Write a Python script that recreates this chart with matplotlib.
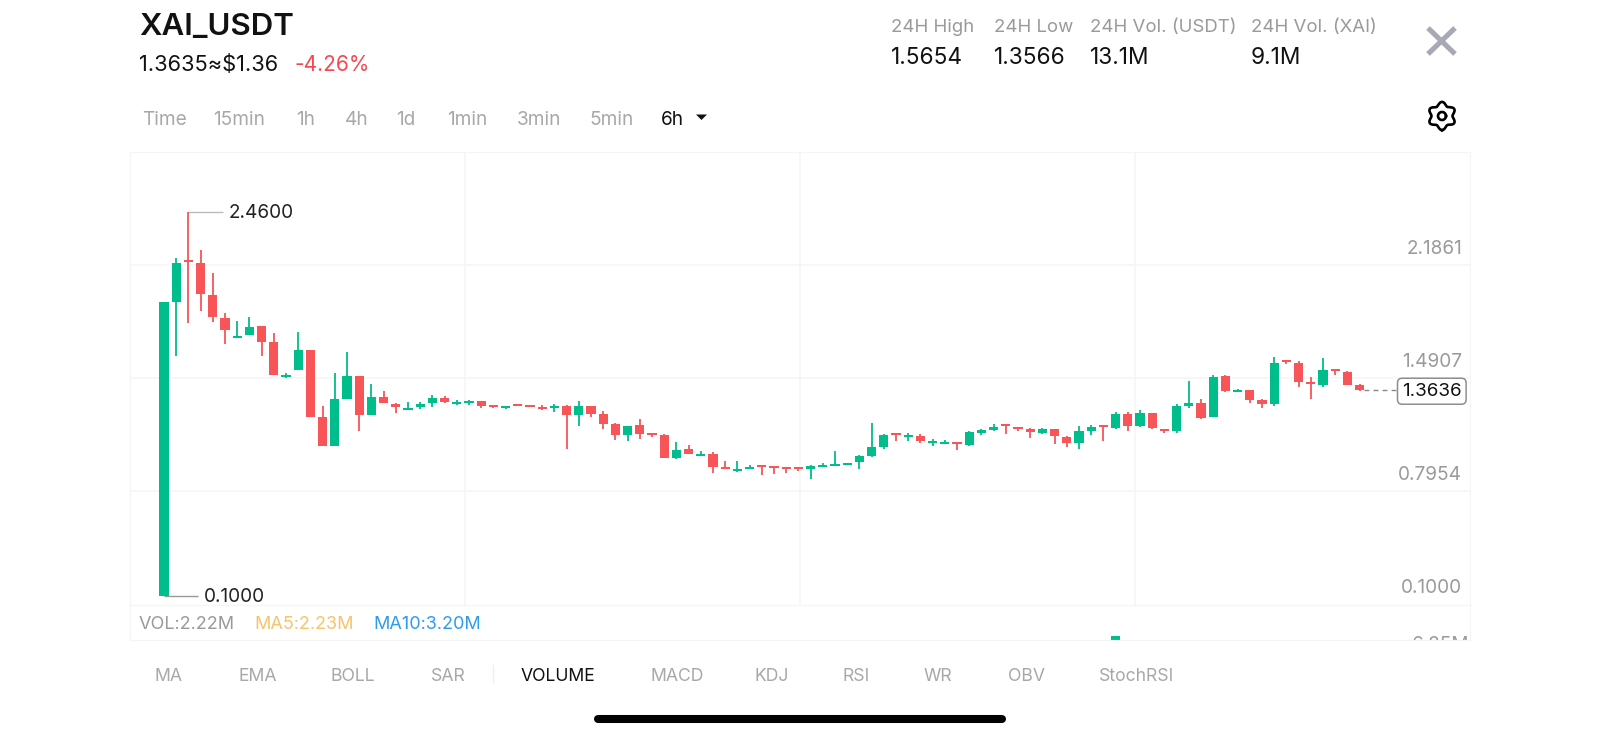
import matplotlib
matplotlib.use('Agg')
import matplotlib.pyplot as plt
import numpy as np
from matplotlib.transforms import blended_transform_factory

plt.rcParams['font.family'] = ['Inter', 'DejaVu Sans']

# candles, 6h
opens = [0.100, 1.907, 2.163, 2.149, 1.950, 1.811, 1.686, 1.702, 1.757, 1.659,
         1.446, 1.491, 1.614, 1.200, 1.022, 1.311, 1.454, 1.214, 1.325, 1.280,
         1.243, 1.260, 1.284, 1.315, 1.282, 1.286, 1.296, 1.272, 1.253, 1.278,
         1.272, 1.260, 1.257, 1.268, 1.212, 1.270, 1.219, 1.155, 1.092, 1.149,
         1.102, 1.089, 0.948, 1.001, 0.960, 0.973, 0.895, 0.868, 0.880, 0.903,
         0.899, 0.895, 0.893, 0.883, 0.895, 0.899, 0.907, 0.921, 0.962, 1.014,
         1.098, 1.075, 1.083, 1.038, 1.034, 1.046, 1.030, 1.100, 1.120, 1.157,
         1.141, 1.124, 1.104, 1.124, 1.079, 1.040, 1.112, 1.149, 1.135, 1.219,
         1.145, 1.227, 1.128, 1.114, 1.270, 1.284, 1.198, 1.450, 1.354, 1.366,
         1.303, 1.280, 1.546, 1.532, 1.413, 1.397, 1.491, 1.477, 1.397]
closes = [1.905, 2.149, 2.153, 1.954, 1.817, 1.733, 1.698, 1.755, 1.663, 1.458,
          1.460, 1.614, 1.202, 1.022, 1.309, 1.454, 1.212, 1.325, 1.284, 1.260,
          1.255, 1.282, 1.315, 1.292, 1.292, 1.296, 1.268, 1.264, 1.266, 1.268,
          1.264, 1.249, 1.268, 1.212, 1.268, 1.219, 1.159, 1.092, 1.147, 1.094,
          1.089, 0.948, 0.997, 0.973, 0.973, 0.895, 0.883, 0.882, 0.893, 0.891,
          0.887, 0.883, 0.880, 0.897, 0.907, 0.911, 0.919, 0.960, 1.014, 1.089,
          1.087, 1.089, 1.051, 1.053, 1.046, 1.032, 1.110, 1.118, 1.141, 1.145,
          1.128, 1.108, 1.128, 1.083, 1.040, 1.116, 1.137, 1.139, 1.219, 1.145,
          1.225, 1.130, 1.114, 1.270, 1.284, 1.194, 1.448, 1.360, 1.366, 1.303,
          1.282, 1.534, 1.536, 1.413, 1.401, 1.487, 1.481, 1.399, 1.364]
highs = [1.905, 2.179, 2.460, 2.224, 2.087, 1.837, 1.790, 1.813, 1.757, 1.714,
         1.468, 1.721, 1.614, 1.266, 1.471, 1.598, 1.454, 1.401, 1.360, 1.284,
         1.292, 1.294, 1.333, 1.329, 1.305, 1.305, 1.296, 1.276, 1.268, 1.278,
         1.272, 1.274, 1.278, 1.272, 1.300, 1.270, 1.235, 1.165, 1.147, 1.188,
         1.102, 1.094, 1.048, 1.026, 0.989, 0.983, 0.932, 0.930, 0.903, 0.903,
         0.899, 0.895, 0.893, 0.905, 0.919, 0.989, 0.919, 0.967, 1.161, 1.098,
         1.098, 1.100, 1.094, 1.063, 1.059, 1.046, 1.114, 1.128, 1.155, 1.157,
         1.141, 1.135, 1.135, 1.124, 1.083, 1.145, 1.153, 1.149, 1.233, 1.231,
         1.243, 1.227, 1.128, 1.278, 1.423, 1.309, 1.458, 1.458, 1.372, 1.366,
         1.313, 1.571, 1.546, 1.544, 1.448, 1.563, 1.491, 1.481, 1.401]
lows = [0.100, 1.577, 1.776, 1.852, 1.786, 1.649, 1.686, 1.702, 1.573, 1.458,
        1.442, 1.491, 1.202, 1.022, 1.022, 1.311, 1.114, 1.210, 1.284, 1.227,
        1.243, 1.251, 1.264, 1.284, 1.272, 1.276, 1.255, 1.255, 1.251, 1.268,
        1.264, 1.243, 1.233, 1.006, 1.145, 1.200, 1.128, 1.059, 1.055, 1.067,
        1.075, 0.948, 0.940, 0.973, 0.960, 0.854, 0.882, 0.864, 0.878, 0.842,
        0.850, 0.854, 0.866, 0.817, 0.895, 0.899, 0.907, 0.880, 0.952, 1.005,
        1.055, 1.053, 1.038, 1.020, 1.034, 0.997, 1.022, 1.087, 1.114, 1.094,
        1.116, 1.071, 1.096, 1.034, 1.018, 1.001, 1.090, 1.053, 1.126, 1.116,
        1.141, 1.126, 1.102, 1.100, 1.257, 1.186, 1.198, 1.356, 1.354, 1.286,
        1.253, 1.270, 1.526, 1.386, 1.313, 1.382, 1.458, 1.399, 1.358]

axis_levels = [2.1861, 1.4907, 0.7954, 0.1000]
axis_labels = ['2.1861', '1.4907', '0.7954', '0.1000']
grid_levels = [2.134, 1.440, 0.745]
grid_candles = [24.65, 52.13, 79.6]
max_price = 2.46
min_price = 0.10
last_price = 1.3636

# only the top of the tallest volume bar shows in the strip
vol_index = [78]
vol_values = [6.25e6]

periods = ['Time', '15min', '1h', '4h', '1d', '1min', '3min', '5min']
period_x = [142, 213, 296, 345, 396, 447, 517, 589]
indicators = ['MA', 'EMA', 'BOLL', 'SAR', 'VOLUME', 'MACD', 'KDJ', 'RSI', 'WR', 'OBV', 'StochRSI']
indicator_x = [155, 238, 331, 431, 521, 651, 755, 843, 924, 1008, 1099]
stat_names = ['24H High', '24H Low', '24H Vol. (USDT)', '24H Vol. (XAI)']
stat_values = ['1.5654', '1.3566', '13.1M', '9.1M']
stat_x = [891, 994, 1090, 1251]

GREEN = '#00BD8C'
RED = '#F85559'
GREY = '#9A9A9A'
LINE = '#F5F5F5'
W, H = 1600, 738


def px_axes(left, top, right, bottom):
    return fig.add_axes([left / W, 1 - bottom / H, (right - left) / W, (bottom - top) / H])


fig = plt.figure(figsize=(16, 7.38), dpi=100, facecolor='white')

# price panel, scale taken from 2.46 at y=212 and 0.10 at y=596
ax = px_axes(130, 152, 1470, 605)
ax.set_xlim(-2.787, 107.05)
ax.set_ylim(0.1 - 9 * 0.006146, 0.1 + 444 * 0.006146)
ax.set_yticks(grid_levels)
ax.set_xticks(grid_candles)
ax.grid(True, color=LINE, lw=1.1)
ax.set_axisbelow(True)
ax.tick_params(length=0, labelleft=False, labelbottom=False)
for s in ax.spines.values():
    s.set_color(LINE)

x = np.arange(len(opens))
o = np.array(opens)
c = np.array(closes)
up = c >= o
colors = [GREEN if u else RED for u in up]
ax.vlines(x, lows, highs, colors=colors, lw=1.3, zorder=2)
heights = np.maximum(np.abs(c - o), 0.012)
ax.bar(x, heights, bottom=np.minimum(o, c), width=0.74, color=colors, zorder=3)

tr = blended_transform_factory(ax.transAxes, ax.transData)
for lev, lab in zip(axis_levels, axis_labels):
    ax.annotate(lab, xy=(1, lev), xycoords=tr, xytext=(-5.8, 5.6), textcoords='offset points',
                ha='right', va='center', fontsize=13.7, color=GREY)

# max and min leaders
ax.hlines(max_price, 2, 4.8, color='#BBBBBB', lw=1, zorder=1)
ax.hlines(min_price, 0, 2.79, color='#999999', lw=1, zorder=1)
ax.annotate('2.4600', xy=(4.8, max_price), xytext=(4.5, -1), textcoords='offset points',
            ha='left', va='center', fontsize=13.7, color='#222222')
ax.annotate('0.1000', xy=(2.79, min_price), xytext=(4.5, -1), textcoords='offset points',
            ha='left', va='center', fontsize=13.7, color='#222222')

# last price marker
ax.plot([98.4, 101.2], [last_price, last_price], color='#888888', lw=1, ls=(0, (3.5, 3)), zorder=2)
ax.annotate('1.3636', xy=(1, last_price), xycoords=tr, xytext=(-27.5, -0.6), textcoords='offset points',
            ha='center', va='center', fontsize=13.5, color='#111111', zorder=5,
            bbox=dict(boxstyle='round,pad=0.24,rounding_size=0.25', fc='white', ec='#8E8E8E', lw=1.1))

# volume strip, cut off at the bottom like in the app
vax = px_axes(130, 605, 1470, 640)
vax.set_xlim(ax.get_xlim())
k = 40000
vax.set_ylim(vol_values[0] - 4.3 * k, vol_values[0] + 30.7 * k)
vax.bar(vol_index, vol_values, width=0.74, color=GREEN)
vax.set_xticks([])
vax.set_yticks([])
for s in vax.spines.values():
    s.set_color(LINE)
vax.text(0.9995, vol_values[0] - 9 * k, '6.25M', transform=blended_transform_factory(vax.transAxes, vax.transData),
         ha='right', va='center', fontsize=13.7, color=GREY, clip_on=True)

# everything around the chart, in screen pixels
ui = fig.add_axes([0, 0, 1, 1], facecolor='none')
ui.set_xlim(0, W)
ui.set_ylim(H, 0)
ui.axis('off')


def label(px, py, s, size, color='#000000', **kw):
    ui.text(px, py, s, fontsize=size, color=color, va='center', **kw)


label(139, 27, 'XAI_USDT', 22.5, '#111111', fontweight='semibold')
label(139, 65, '1.3635≈$1.36', 15.7, '#111111')
label(294, 65, '-4.26%', 15, '#F8474F')

for name, val, sx in zip(stat_names, stat_values, stat_x):
    label(sx, 28, name, 13.4, GREY)
    label(sx, 58.5, val, 16.3, '#111111')

for name, px in zip(periods, period_x):
    label(px, 120, name, 13.7, '#A8A8A8')
label(661, 120, '6h', 13.7, '#111111')
ui.fill([696, 707, 701.5], [114.5, 114.5, 120], color='#111111', lw=0)

for name, px in zip(indicators, indicator_x):
    label(px, 676.5, name, 12.7, '#111111' if name == 'VOLUME' else '#A8A8A8')
ui.plot([493, 493], [665, 682], color='#EEEEEE', lw=1)

label(139, 624.5, 'VOL:2.22M', 13, GREY)
label(254, 624.5, 'MA5:2.23M', 13, '#F9C26B')
label(373, 624.5, 'MA10:3.20M', 13, '#2E9BEF')

# close button
ui.plot([1428, 1455], [28, 54], color='#A9A9B5', lw=3.7, solid_capstyle='butt')
ui.plot([1428, 1455], [54, 28], color='#A9A9B5', lw=3.7, solid_capstyle='butt')

# settings gear
t = np.linspace(0, 2 * np.pi, 240)
r = 12.3 + 1.8 * np.cos(6 * t)
ui.plot(1442 + r * np.sin(t), 116 + r * np.cos(t), color='#000000', lw=1.9)
ui.plot(1442 + 4 * np.cos(t), 116 + 4 * np.sin(t), color='#000000', lw=1.9)

# home bar
ui.plot([598, 1002], [718.5, 718.5], color='#000000', lw=5.8, solid_capstyle='round')

fig.savefig('out.png', dpi=100)
